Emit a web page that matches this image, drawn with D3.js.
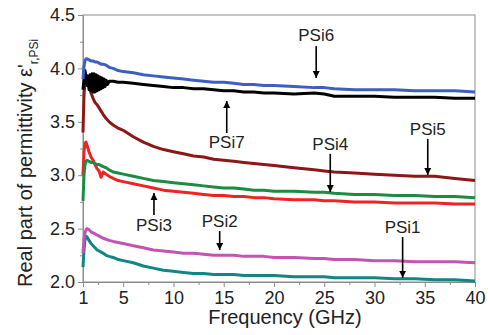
<!DOCTYPE html>
<head>
<meta charset="utf-8">
<style>
body { margin: 0; background: white; }
text { font-family: "Liberation Sans", Arial, sans-serif; fill: #222; }
.frame { fill: none; stroke: #8c8c8c; stroke-width: 1px; }
.axis path, .axis line { stroke: #8c8c8c; }
.curve { fill: none; stroke-width: 3px; stroke-linejoin: round; }
</style>
</head>
<body>
<div id="mainDiv" style="width: 488px; height: 335px; background-color: white;"></div>

<script src="https://d3js.org/d3.v7.min.js"></script>
<script>

var width = 488, height = 335;
var margin = {top: 15, right: 13, bottom: 53, left: 83};

// frequency (GHz) shared by most curves
var freq = [1, 1.1, 1.2, 1.3, 1.4, 1.6, 1.8, 2.0, 2.2, 2.4, 2.6, 2.8, 3.0, 3.3, 3.6, 4, 4.5, 5,
  6, 7, 8, 9, 10, 11, 12, 13, 14, 15, 16, 17, 18, 19, 20, 22, 24, 25, 26, 28, 30, 32, 34, 36, 38, 40];
// PSi7 is sampled more densely where it oscillates
var freq7 = [1, 1.1, 1.2, 1.3, 1.4, 1.5, 1.6, 1.7, 1.8, 1.9, 2.0, 2.1, 2.2, 2.3, 2.4, 2.5, 2.6, 2.7, 2.8, 2.9, 3.0,
  3.1, 3.2, 3.3, 3.45, 3.6, 4, 4.5, 5,
  6, 7, 8, 9, 10, 11, 12, 13, 14, 15, 16, 17, 18, 19, 20, 22, 24, 25, 26, 28, 30, 32, 34, 36, 38, 40];

var psi1 = [2.14, 2.30, 2.40, 2.43, 2.42, 2.39, 2.36, 2.34, 2.32, 2.30, 2.29, 2.28, 2.27, 2.25, 2.24, 2.23, 2.21, 2.20,
  2.18, 2.15, 2.13, 2.11, 2.10, 2.09, 2.08, 2.08, 2.07, 2.07, 2.07, 2.06, 2.06, 2.06, 2.06, 2.05, 2.05, 2.05, 2.04, 2.04, 2.04, 2.03, 2.03, 2.02, 2.02, 2.01];
var psi2 = [2.27, 2.40, 2.46, 2.49, 2.50, 2.49, 2.47, 2.46, 2.45, 2.44, 2.43, 2.42, 2.41, 2.40, 2.39, 2.38, 2.37, 2.36,
  2.34, 2.32, 2.30, 2.29, 2.28, 2.27, 2.27, 2.26, 2.25, 2.25, 2.25, 2.24, 2.24, 2.24, 2.23, 2.23, 2.22, 2.22, 2.21, 2.21, 2.20, 2.20, 2.19, 2.19, 2.19, 2.18];
var psi3 = [3.00, 3.22, 3.30, 3.31, 3.28, 3.22, 3.17, 3.14, 3.10, 3.06, 3.04, 2.98, 3.03, 3.01, 2.99, 2.97, 2.95, 2.94,
  2.92, 2.90, 2.88, 2.86, 2.85, 2.84, 2.83, 2.82, 2.81, 2.81, 2.80, 2.80, 2.79, 2.79, 2.78, 2.77, 2.77, 2.76, 2.76, 2.75, 2.75, 2.74, 2.74, 2.74, 2.73, 2.73];
var psi4 = [2.76, 3.00, 3.10, 3.13, 3.14, 3.13, 3.12, 3.12, 3.11, 3.10, 3.10, 3.09, 3.08, 3.07, 3.05, 3.03, 3.02, 3.01,
  2.99, 2.97, 2.95, 2.94, 2.93, 2.92, 2.91, 2.90, 2.89, 2.88, 2.88, 2.87, 2.86, 2.86, 2.85, 2.85, 2.84, 2.84, 2.83, 2.82, 2.82, 2.81, 2.81, 2.80, 2.80, 2.79];
var psi5 = [3.40, 3.75, 3.88, 3.91, 3.90, 3.83, 3.77, 3.72, 3.68, 3.66, 3.63, 3.60, 3.57, 3.53, 3.50, 3.47, 3.44, 3.42,
  3.36, 3.31, 3.27, 3.24, 3.22, 3.20, 3.18, 3.17, 3.15, 3.14, 3.13, 3.12, 3.11, 3.10, 3.09, 3.07, 3.05, 3.04, 3.03, 3.02, 3.01, 3.00, 2.99, 2.99, 2.97, 2.95];
var psi6 = [3.90, 4.02, 4.07, 4.09, 4.09, 4.08, 4.07, 4.07, 4.06, 4.06, 4.05, 4.04, 4.04, 4.03, 4.01, 4.00, 3.98, 3.97,
  3.96, 3.94, 3.93, 3.92, 3.91, 3.90, 3.89, 3.88, 3.87, 3.87, 3.86, 3.85, 3.85, 3.84, 3.84, 3.83, 3.82, 3.82, 3.81, 3.80, 3.80, 3.80, 3.79, 3.79, 3.79, 3.78];
var psi7 = [3.80, 3.90, 3.98, 3.92, 3.84, 3.93, 3.80, 3.94, 3.79, 3.95, 3.78, 3.95, 3.78, 3.94, 3.79, 3.93, 3.80, 3.92,
  3.81, 3.91, 3.82, 3.90, 3.83, 3.89, 3.85, 3.88, 3.88, 3.87, 3.87,
  3.86, 3.85, 3.84, 3.83, 3.82, 3.82, 3.81, 3.81, 3.80, 3.79, 3.79, 3.78, 3.78, 3.77, 3.77, 3.76, 3.77, 3.76, 3.74, 3.74, 3.74, 3.73, 3.73, 3.73, 3.72, 3.72];

var seriesValues = [psi1, psi2, psi3, psi4, psi5, psi7, psi6];
var seriesFreq = [freq, freq, freq, freq, freq, freq7, freq];
var seriesColors = ["#128585", "#c254b4", "#ee2424", "#1b8c42", "#8b1717", "#000000", "#3d5fc0"];

var xTicks = [1, 5, 10, 15, 20, 25, 30, 35, 40];
var xMinor = [2.5, 7.5, 12.5, 17.5, 22.5, 27.5, 32.5, 37.5];
var yTicks = [2.0, 2.5, 3.0, 3.5, 4.0, 4.5];
var yMinor = [2.25, 2.75, 3.25, 3.75, 4.25];

// label, frequency, text value, arrow start value, arrow tip value
var labels = ["PSi6", "PSi7", "PSi4", "PSi5", "PSi3", "PSi2", "PSi1"];
var labelFreq = [24.2, 15.3, 25.6, 35.3, 8.06, 14.6, 32.8];
var labelText = [4.257, 3.255, 3.236, 3.376, 2.478, 2.515, 2.459];
var arrowFrom = [4.21, 3.395, 3.20, 3.34, 2.627, 2.478, 2.421];
var arrowTo = [3.91, 3.695, 2.843, 3.002, 2.833, 2.30, 2.04];

var svg = d3.select("#mainDiv").append("svg")
    .attr("width", width)
    .attr("height", height);

var x = d3.scaleLinear().domain([1, 40]).range([margin.left, width - margin.right]);
var y = d3.scaleLinear().domain([2.0, 4.5]).range([height - margin.bottom, margin.top]);

// frame
svg.append("rect").attr("class", "frame")
    .attr("x", x(1)).attr("y", y(4.5))
    .attr("width", x(40) - x(1)).attr("height", y(2.0) - y(4.5));

// minor ticks
svg.append("g").attr("class", "axis")
    .attr("transform", "translate(0," + y(2.0) + ")")
    .call(d3.axisBottom(x).tickValues(xMinor).tickSize(3).tickFormat(""))
    .call(function(g) { g.select(".domain").remove(); });
svg.append("g").attr("class", "axis")
    .attr("transform", "translate(" + x(1) + ",0)")
    .call(d3.axisLeft(y).tickValues(yMinor).tickSize(3).tickFormat(""))
    .call(function(g) { g.select(".domain").remove(); });

var xAxis = svg.append("g").attr("class", "axis")
    .attr("transform", "translate(0," + y(2.0) + ")")
    .call(d3.axisBottom(x).tickValues(xTicks).tickSize(5).tickSizeOuter(0).tickPadding(4).tickFormat(d3.format("d")));
xAxis.selectAll("text").style("font-size", "18px").attr("fill", "#222");

var yAxis = svg.append("g").attr("class", "axis")
    .attr("transform", "translate(" + x(1) + ",0)")
    .call(d3.axisLeft(y).tickValues(yTicks).tickSize(5).tickSizeOuter(0).tickPadding(3).tickFormat(d3.format(".1f")));
yAxis.selectAll("text").style("font-size", "18px").attr("fill", "#222");

// curves
svg.append("g").selectAll("path")
    .data(seriesValues)
    .enter().append("path")
    .attr("class", "curve")
    .attr("stroke", function(d, i) { return seriesColors[i]; })
    .attr("d", function(d, i) {
      var f = seriesFreq[i];
      return d3.line()
          .x(function(v, j) { return x(f[j]); })
          .y(function(v) { return y(v); })(d);
    });

// arrow heads
svg.append("defs").append("marker")
    .attr("id", "head")
    .attr("viewBox", "0 0 10 10")
    .attr("refX", 10).attr("refY", 5)
    .attr("markerUnits", "userSpaceOnUse")
    .attr("markerWidth", 7).attr("markerHeight", 9)
    .attr("orient", "auto")
    .append("path").attr("d", "M0,0L10,5L0,10Z").attr("fill", "#000");

var ann = svg.append("g");
labels.forEach(function(name, i) {
  ann.append("line")
      .attr("x1", x(labelFreq[i])).attr("x2", x(labelFreq[i]))
      .attr("y1", y(arrowFrom[i])).attr("y2", y(arrowTo[i]))
      .attr("stroke", "#000").attr("stroke-width", 1.6)
      .attr("marker-end", "url(#head)");
  ann.append("text")
      .attr("x", x(labelFreq[i])).attr("y", y(labelText[i]))
      .attr("text-anchor", "middle")
      .style("font-size", "17px")
      .text(name);
});

// axis titles
svg.append("text")
    .attr("x", (x(1) + x(40)) / 2 + 6).attr("y", 324)
    .attr("text-anchor", "middle")
    .style("font-size", "20px")
    .text("Frequency (GHz)");

var yt = svg.append("text")
    .attr("transform", "translate(32,287) rotate(-90)")
    .style("font-size", "20px");
yt.append("tspan").text("Real part of permittivity  \u03b5'");
yt.append("tspan").attr("dy", 6).style("font-size", "12px").text("r,PSi");

</script>
</body>
</html>
